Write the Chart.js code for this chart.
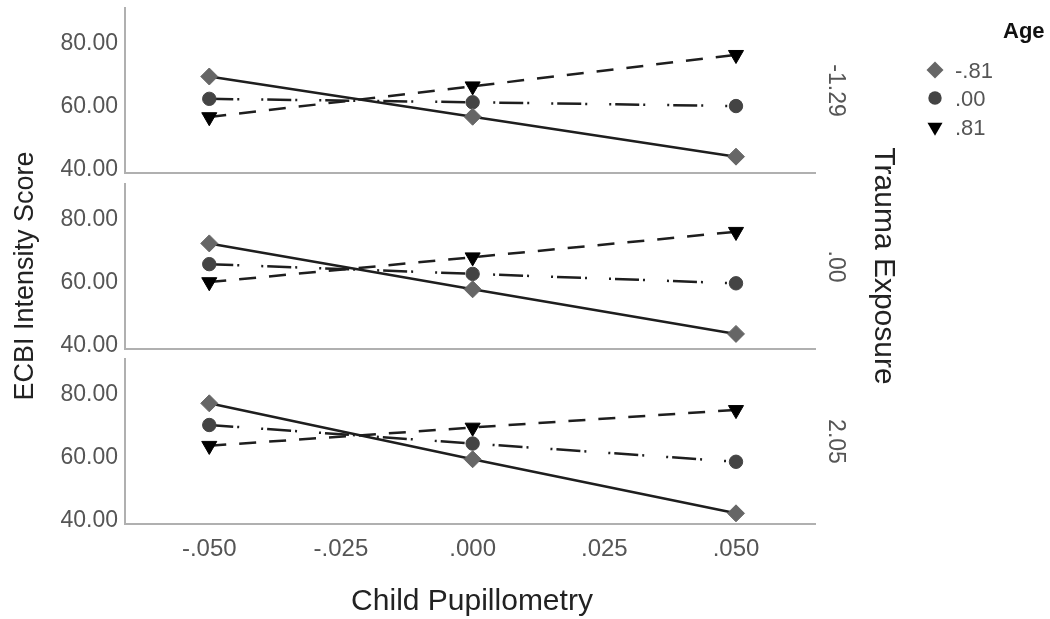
<!DOCTYPE html>
<html>
<head>
<meta charset="utf-8">
<script src="https://cdn.jsdelivr.net/npm/chart.js@4.4.1/dist/chart.umd.min.js"></script>
<style>
  html, body { margin: 0; padding: 0; background: #fff; }
  #wrap { position: relative; width: 1050px; height: 619px; overflow: hidden; }
  #wrap canvas { position: absolute; left: 0; top: -50px; }
</style>
</head>
<body>
<div id="wrap">
  <canvas id="panel0" width="1050" height="719"></canvas>
  <canvas id="panel1" width="1050" height="719"></canvas>
  <canvas id="panel2" width="1050" height="719"></canvas>
</div>
<script>
// x = child pupillometry, one panel per trauma exposure level
const pupilX = [-0.05, 0, 0.05];
const xTicks = [-0.05, -0.025, 0, 0.025, 0.05];
const xTickLabels = ['-.050', '-.025', '.000', '.025', '.050'];
const yTicks = [40, 60, 80];

const traumaLevels = ['-1.29', '.00', '2.05'];
const ageLevels = ['-.81', '.00', '.81'];

// ECBI intensity, rows = trauma level, columns = pupillometry
const ageLow = [[69.7, 56.9, 44.2], [72.6, 58.0, 43.8], [77.4, 59.6, 42.4]];
const ageMid = [[62.6, 61.5, 60.3], [66.0, 62.9, 59.9], [70.5, 64.6, 58.8]];
const ageHigh = [[56.8, 66.6, 76.6], [60.3, 68.2, 76.3], [63.9, 69.7, 75.3]];
const ageSeries = [ageLow, ageMid, ageHigh];

const FONT = "'Liberation Sans', Arial, sans-serif";
const OFF = 50;   // canvases sit 50px above the page top
const panelTop = [8, 184, 359];
const panelBottom = [173, 349, 524];

const lineStyles = [
  { shape: 'rectRot', radius: 8.5, rot: 0, fill: '#666666', dash: [] },
  { shape: 'circle', radius: 6.7, rot: 0, fill: '#444444', dash: [24, 4, 2, 22, 2, 4] },
  { shape: 'triangle', radius: 8.7, rot: 180, fill: '#000000', dash: [17, 13] }
];

function drawText(ctx, str, x, y, font, color, align, baseline, rot) {
  ctx.save();
  ctx.translate(x, y);
  ctx.rotate(rot || 0);
  ctx.font = font;
  ctx.fillStyle = color;
  ctx.textAlign = align;
  ctx.textBaseline = baseline;
  ctx.fillText(str, 0, 0);
  ctx.restore();
}

function legendMarker(ctx, k, x, y) {
  const s = lineStyles[k];
  const r = s.radius;
  ctx.save();
  ctx.fillStyle = s.fill;
  ctx.beginPath();
  if (k === 0) {
    ctx.moveTo(x, y - r); ctx.lineTo(x + r, y); ctx.lineTo(x, y + r); ctx.lineTo(x - r, y);
  } else if (k === 1) {
    ctx.arc(x, y, r, 0, Math.PI * 2);
  } else {
    ctx.moveTo(x - 0.866 * r, y - 0.5 * r); ctx.lineTo(x + 0.866 * r, y - 0.5 * r); ctx.lineTo(x, y + r);
  }
  ctx.closePath();
  ctx.fill();
  ctx.restore();
}

// titles, panel labels and the Age legend
const decor = {
  id: 'decor',
  afterDraw(chart) {
    const ctx = chart.ctx;
    ctx.save();
    ctx.translate(0, OFF);
    drawText(ctx, 'Child Pupillometry', 472, 610, '30px ' + FONT, '#222', 'center', 'alphabetic', 0);
    drawText(ctx, 'ECBI Intensity Score', 33, 276, '27px ' + FONT, '#222', 'center', 'alphabetic', -Math.PI / 2);
    drawText(ctx, 'Trauma Exposure', 875, 266, '30px ' + FONT, '#222', 'center', 'alphabetic', Math.PI / 2);
    traumaLevels.forEach((t, i) => {
      const mid = (panelTop[i] + panelBottom[i]) / 2;
      drawText(ctx, t, 829, mid, '23px ' + FONT, '#555', 'center', 'alphabetic', Math.PI / 2);
    });
    drawText(ctx, 'Age', 1003, 38, 'bold 22px ' + FONT, '#111', 'left', 'alphabetic', 0);
    const rows = [70, 98, 127];
    ageLevels.forEach((a, k) => {
      legendMarker(ctx, k, 935, rows[k]);
      drawText(ctx, a, 955, rows[k] + 8, '22px ' + FONT, '#555', 'left', 'alphabetic', 0);
    });
    ctx.restore();
  }
};

function makePanel(i) {
  const last = i === 2;
  const xAxisH = last ? 40 : 0;
  const canvasH = 619 + 2 * OFF;
  new Chart(document.getElementById('panel' + i), {
    type: 'line',
    data: {
      datasets: ageSeries.map((series, k) => ({
        label: ageLevels[k],
        data: pupilX.map((x, j) => ({ x: x, y: series[i][j] })),
        borderColor: '#1e1e1e',
        borderWidth: 2.5,
        borderDash: lineStyles[k].dash,
        tension: 0,
        fill: false,
        pointStyle: lineStyles[k].shape,
        pointRadius: lineStyles[k].radius,
        pointRotation: lineStyles[k].rot,
        pointBackgroundColor: lineStyles[k].fill,
        pointBorderColor: lineStyles[k].fill,
        pointBorderWidth: 1
      }))
    },
    options: {
      responsive: false,
      animation: false,
      devicePixelRatio: 1,
      events: [],
      layout: {
        autoPadding: false,
        padding: {
          left: 0,
          right: 1050 - 815,
          top: panelTop[i] + OFF,
          bottom: canvasH - (panelBottom[i] + OFF) - xAxisH
        }
      },
      plugins: { legend: { display: false }, tooltip: { enabled: false } },
      scales: {
        x: {
          type: 'linear',
          min: -0.066,
          max: 0.065,
          grid: { display: false, drawTicks: false },
          border: { color: '#b0b0b0', width: 2 },
          afterBuildTicks: s => { s.ticks = xTicks.map(v => ({ value: v })); },
          afterFit: s => { s.height = xAxisH; },
          ticks: {
            display: last,
            padding: 11,
            color: '#555',
            font: { family: FONT, size: 24 },
            callback: (v, idx) => xTickLabels[idx]
          }
        },
        y: {
          min: 39,
          max: 91.5,
          grid: { display: false, drawTicks: false },
          border: { color: '#b0b0b0', width: 2 },
          afterBuildTicks: s => { s.ticks = yTicks.map(v => ({ value: v })); },
          afterFit: s => { s.width = 125; },
          ticks: {
            padding: 7,
            color: '#555',
            font: { family: FONT, size: 23 },
            callback: v => v.toFixed(2)
          }
        }
      }
    },
    plugins: last ? [decor] : []
  });
}

[0, 1, 2].forEach(makePanel);
</script>
</body>
</html>
